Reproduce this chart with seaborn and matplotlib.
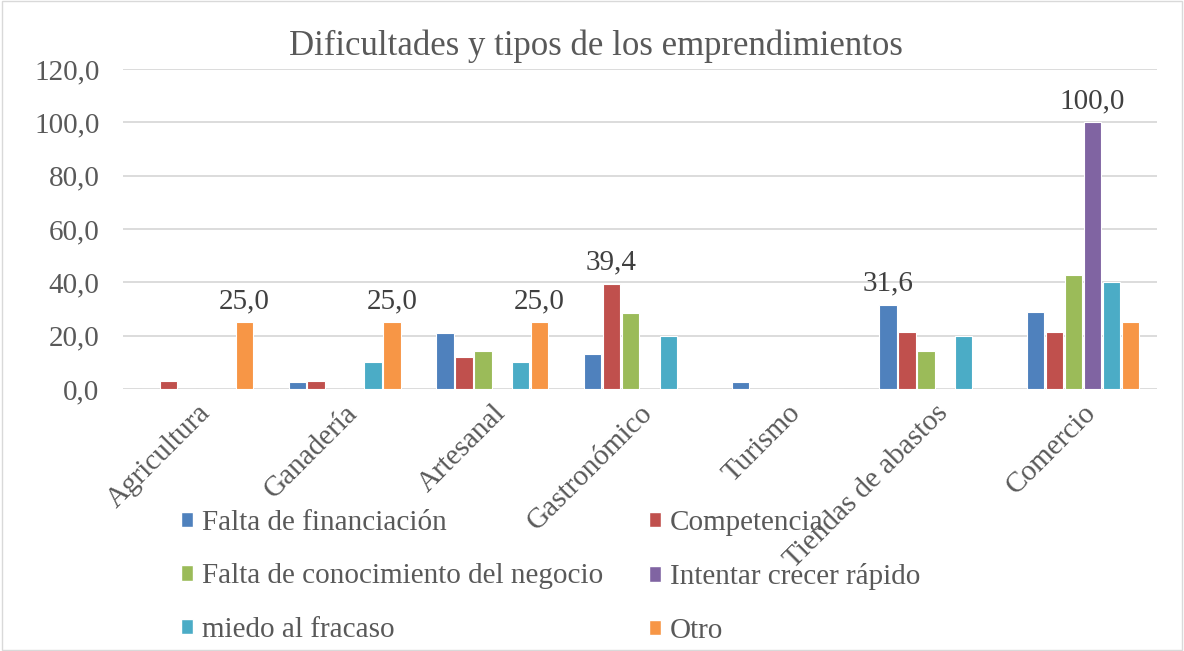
import matplotlib
matplotlib.use('Agg')
import matplotlib.pyplot as plt
import pandas as pd
import seaborn as sns
from matplotlib.patches import Rectangle

# Data
categories = ['Agricultura', 'Ganadería', 'Artesanal', 'Gastronómico',
              'Turismo', 'Tiendas de abastos', 'Comercio']
series = ['Falta de financiación', 'Competencia',
          'Falta de conocimiento del negocio', 'Intentar crecer rápido',
          'miedo al fracaso', 'Otro']
falta_financiacion = [0.0, 2.6, 21.1, 13.2, 2.6, 31.6, 28.9]
competencia = [3.0, 3.0, 12.1, 39.4, 0.0, 21.2, 21.2]
falta_conocimiento = [0.0, 0.0, 14.3, 28.6, 0.0, 14.3, 42.9]
crecer_rapido = [0.0, 0.0, 0.0, 0.0, 0.0, 0.0, 100.0]
miedo_fracaso = [0.0, 10.0, 10.0, 20.0, 0.0, 20.0, 40.0]
otro = [25.0, 25.0, 25.0, 0.0, 0.0, 0.0, 25.0]
# bars that carry a data label (category, series)
labelled = [('Agricultura', 'Otro'), ('Ganadería', 'Otro'), ('Artesanal', 'Otro'),
            ('Gastronómico', 'Competencia'), ('Tiendas de abastos', 'Falta de financiación'),
            ('Comercio', 'Intentar crecer rápido')]

colors = ['#4F81BD', '#C0504D', '#9BBB59', '#8064A2', '#4BACC6', '#F79646']
txt = '#595959'

values = [falta_financiacion, competencia, falta_conocimiento,
          crecer_rapido, miedo_fracaso, otro]
rows = []
for s, vals in zip(series, values):
    for c, v in zip(categories, vals):
        rows.append({'categoria': c, 'serie': s, 'valor': v})
df = pd.DataFrame(rows)

sns.set_style('white')
plt.rcParams['font.family'] = ['Liberation Serif', 'DejaVu Serif']

fig = plt.figure(figsize=(11.84, 6.51), dpi=100)
ax = fig.add_axes([0.104, 0.4025, 0.873, 0.4915])

sns.barplot(data=df, x='categoria', y='valor', hue='serie',
            order=categories, hue_order=series, palette=colors, saturation=1,
            width=0.77, gap=0.08, edgecolor='white', linewidth=0.8,
            legend=False, ax=ax)

# data labels
for s, cont in zip(series, ax.containers):
    for c, bar in zip(categories, cont):
        if (c, s) in labelled:
            ax.annotate(f'{bar.get_height():.1f}'.replace('.', ','),
                        (bar.get_x() + bar.get_width() / 2, bar.get_height()),
                        xytext=(0, 6), textcoords='offset points',
                        ha='center', va='bottom', fontsize=21, color='#404040')

ax.set_ylim(0, 120)
ax.set_yticks(range(0, 121, 20))
ax.set_yticklabels([f'{v:.1f}'.replace('.', ',') for v in range(0, 121, 20)],
                   fontsize=21, color=txt)
ax.set_xlim(-0.5, len(categories) - 0.5)
ax.set_xticks(range(len(categories)))
ax.set_xticklabels(categories, rotation=45, ha='right', rotation_mode='anchor',
                   fontsize=21, color=txt)
ax.tick_params(axis='y', length=0, pad=17)
ax.tick_params(axis='x', length=0, pad=8)
ax.yaxis.grid(True, color='#D9D9D9', linewidth=1.3)
ax.set_axisbelow(True)
for sp in ax.spines.values():
    sp.set_visible(False)
ax.set_xlabel('')
ax.set_ylabel('')

fig.text(0.503, 0.929, 'Dificultades y tipos de los emprendimientos',
         ha='center', va='center', fontsize=25, color=txt)

handles = [Rectangle((0, 0), 1, 1, facecolor=col) for col in colors]
# order so that 2-column legend fills row by row
order = [0, 2, 4, 1, 3, 5]
fig.legend([handles[i] for i in order], [series[i] for i in order],
           loc='upper left', bbox_to_anchor=(0.153, 0.217), ncol=2,
           frameon=False, fontsize=21, labelcolor=txt,
           handlelength=0.42, handleheight=0.42, handletextpad=0.3,
           columnspacing=1.55, labelspacing=0.95, borderaxespad=0, borderpad=0)

fig.patches.append(Rectangle((0.002, 0.002), 0.996, 0.996, transform=fig.transFigure,
                             fill=False, edgecolor='#D9D9D9', linewidth=1))

fig.savefig('out.png', dpi=100)
